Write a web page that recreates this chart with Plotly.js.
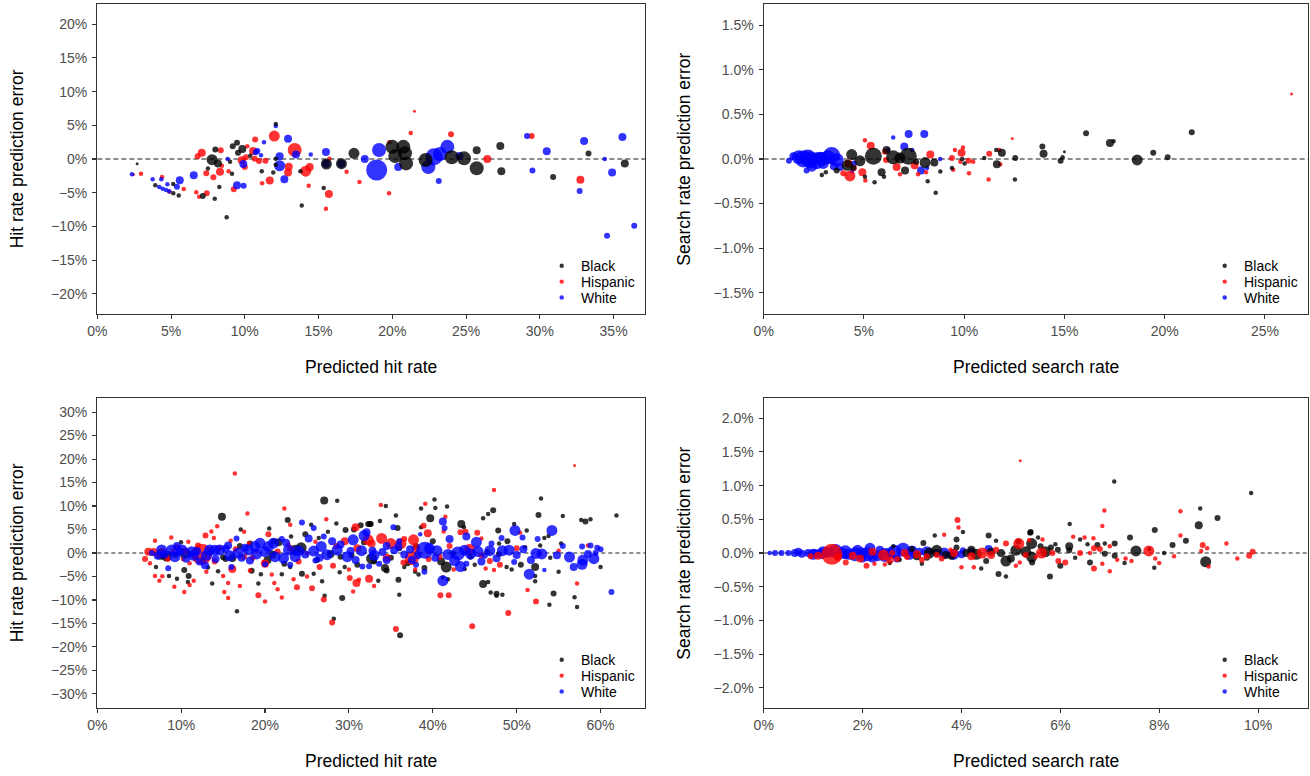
<!DOCTYPE html>
<html><head><meta charset="utf-8">
<script src="https://cdn.plot.ly/plotly-3.0.1.min.js"></script>
<style>html,body{margin:0;padding:0;background:#fff;} #chart{width:1310px;height:776px;}</style>
</head><body><div id="chart"></div>
<script>
// ---- DATA: each point = [predicted rate (%), prediction error (%), weight class] ----
// Panel 1: hit rate (top-left)
const hitTopBlack = [[2.7,-0.7,1],[3.93,-3.9,2],[5.15,-3.7,2],[5.15,-5.1,2],[5.52,-5.4,2],[7.15,-5.5,3],[7.5,-1.4,2],[7.78,-0.1,5],[8.0,1.4,3],[8.18,-0.65,4],[8.27,-4.15,2],[7.96,-5.9,2],[8.77,-8.65,2],[9.0,-0.4,2],[9.13,-2.2,2],[9.18,1.9,3],[9.47,2.4,3],[9.54,0.93,3],[9.83,1.5,4],[10.37,0.5,2],[11.15,-1.8,2],[11.93,-2.0,2],[12.1,5.2,2],[12.1,0.05,2],[12.1,-0.85,2],[13.77,-1.8,2],[13.86,-6.9,2],[15.35,-4.3,2],[15.53,-0.74,5],[16.55,-0.7,5],[17.4,0.85,5],[20.0,1.8,6],[20.2,0.45,6],[20.75,1.8,6],[20.86,0.85,6],[20.93,-0.65,6],[22.26,-0.15,6],[24.03,0.25,6],[24.86,0.1,6],[25.72,-1.38,6],[25.72,1.3,4],[27.32,1.93,4],[27.39,-1.8,4],[30.9,-2.67,3],[33.3,0.8,3],[35.76,-0.65,4]];
const hitTopHispanic = [[2.45,-2.3,1],[2.96,-2.2,2],[4.39,-2.67,2],[4.88,-4.85,2],[5.86,-4.45,2],[6.71,-4.95,2],[6.9,-5.6,2],[7.42,-5.1,3],[6.8,0.4,3],[7.08,0.93,4],[7.39,-2.1,3],[8.37,1.3,3],[8.45,-1.0,2],[8.32,-1.9,4],[7.87,-2.7,3],[8.9,-1.8,2],[9.79,-0.2,4],[10.0,-1.2,3],[9.25,-4.5,3],[10.08,0.25,3],[10.17,1.9,2],[10.56,1.2,4],[10.7,2.9,3],[10.67,0.05,3],[10.96,-0.3,3],[11.17,-3.6,2],[11.4,-0.25,3],[11.69,-3.2,4],[12.0,3.4,5],[12.98,-1.15,4],[12.93,-2.0,4],[13.38,1.35,6],[14.13,-1.8,5],[14.4,-1.2,4],[14.33,-3.96,2],[15.5,-7.4,2],[15.7,-5.2,4],[15.73,0.05,2],[16.9,-1.9,2],[17.77,-3.4,2],[19.78,-5.1,2],[19.8,2.5,2],[21.5,7.1,1],[21.25,3.85,2],[23.98,3.66,3],[26.44,0,4],[29.45,3.4,3],[32.75,-3.07,4]];
const hitTopWhite = [[2.35,-2.27,2],[3.75,-3.0,2],[4.34,-3.0,2],[4.2,-4.15,2],[4.43,-4.4,2],[4.66,-4.6,2],[4.88,-4.8,2],[4.75,-3.76,2],[5.4,-4.1,3],[5.59,-3.16,4],[6.54,-2.4,4],[8.84,0,2],[9.9,-0.74,4],[9.47,-3.9,4],[9.92,-3.96,3],[10.74,1.0,3],[10.85,1.2,3],[11.1,0.55,2],[11.3,2.5,2],[12.1,4.9,2],[12.36,0.4,4],[12.36,-1.0,5],[12.68,-3.0,4],[12.93,3.0,4],[13.47,0.65,4],[14.47,0.65,2],[15.5,1.04,4],[15.5,-0.7,4],[16.55,-0.7,4],[18.13,0,4],[18.94,-1.63,8],[19.1,1.34,6],[20.4,-1.2,4],[22.44,-1.2,6],[22.83,0.35,7],[23.23,0.74,6],[23.73,1.8,6],[24.55,0.45,4],[23.15,-3.26,3],[29.13,3.4,3],[29.5,-1.7,3],[30.47,1.14,4],[32.7,-4.75,3],[33.0,2.67,4],[34.4,0,2],[34.9,-2.0,4],[35.6,3.26,4],[34.56,-11.4,3],[36.4,-9.9,3]];

// Panel 2: search rate (top-right)
const searchTopBlack = [[2.9,-0.18,2],[3.1,-0.15,2],[3.64,-0.13,3],[4.17,-0.07,5],[4.39,0.05,5],[4.47,-0.1,3],[4.8,-0.02,5],[5.05,-0.2,2],[5.47,0.03,7],[5.53,-0.26,2],[5.88,-0.15,4],[6.0,-0.2,2],[6.13,0.1,4],[6.46,0.02,6],[6.8,0.01,5],[7.21,0.03,7],[7.05,-0.13,4],[7.6,-0.03,3],[8.05,-0.04,5],[8.51,-0.04,4],[8.18,-0.25,2],[8.58,-0.38,2],[8.81,-0.14,2],[9.39,-0.1,2],[9.9,0.0,2],[10.02,-0.05,2],[11.0,0.01,2],[11.63,-0.06,4],[11.88,0.07,4],[11.6,0.1,2],[12.55,0.01,3],[12.53,-0.23,2],[13.9,0.14,3],[13.96,0.06,4],[14.81,-0.02,3],[14.91,0.02,2],[15.0,0.08,1],[16.08,0.29,3],[17.27,0.18,4],[17.45,0.2,2],[18.63,-0.01,5],[19.43,0.07,3],[20.15,0.02,3],[21.35,0.3,3]];
const searchTopHispanic = [[3.97,-0.16,3],[4.3,-0.19,5],[4.22,-0.05,4],[4.5,-0.1,3],[4.92,-0.15,4],[5.07,-0.24,2],[5.05,0.21,2],[5.34,0.15,4],[6.05,0.08,3],[6.1,-0.01,3],[6.63,-0.09,4],[6.8,-0.17,2],[7.53,-0.07,4],[7.7,-0.17,2],[8.31,0.05,4],[8.1,-0.15,2],[9.39,0.01,3],[9.45,-0.12,2],[9.54,0.1,2],[9.87,0.07,4],[9.94,0.13,2],[9.81,-0.03,2],[10.22,-0.02,3],[10.24,-0.16,2],[10.45,-0.03,2],[11.25,0.06,3],[11.22,-0.23,2],[11.75,0.1,2],[11.8,-0.06,2],[12.4,0.23,1],[26.33,0.73,1]];
const searchTopWhite = [[1.26,-0.02,3],[1.48,0.03,4],[1.75,0.02,6],[1.98,0.0,7],[2.2,0.01,7],[2.31,-0.01,7],[2.64,-0.02,7],[2.14,-0.13,3],[2.4,-0.08,5],[2.9,0.0,6],[2.97,-0.05,5],[3.2,0.02,6],[3.39,0.04,7],[3.64,-0.01,6],[3.8,-0.09,4],[3.5,-0.08,4],[2.8,0.02,5],[4.4,-0.14,2],[4.5,-0.05,3],[6.46,0.24,2],[6.2,0.1,2],[7.01,0.14,4],[7.23,0.28,4],[7.4,0.1,2],[8.01,0.28,4],[7.85,-0.13,4],[8.15,-0.1,2],[8.8,0.0,2]];

// Panel 3: hit rate (bottom-left)
const hitBottomBlack = [[7.59,-0.28,5],[8.27,-0.64,5],[8.55,-4.9,2],[9.98,2.3,2],[10.45,-0.07,5],[10.37,-3.6,3],[10.8,-6.2,2],[10.89,-4.9,3],[11.5,-0.5,3],[14.86,7.73,4],[15.0,-0.9,3],[14.4,-3.9,2],[13.7,-6.5,2],[16.1,-1.06,4],[17.1,5.0,2],[16.65,-12.4,2],[18.2,2.0,3],[18.4,-3.8,3],[19.2,-6.5,2],[20.3,-1.5,4],[21.0,2.5,3],[21.6,2.3,4],[22.3,-2.3,3],[22.7,7.0,3],[23.1,3.5,2],[23.6,0.6,5],[24.3,1.1,5],[24.4,-4.4,3],[24.8,4.0,3],[26.4,3.2,2],[27.05,11.2,4],[28.6,11.1,2],[27.1,-9.1,2],[28.2,-14.0,2],[29.2,-9.6,3],[25.8,-4.4,2],[28.9,-4.1,2],[29.6,4.9,3],[30.6,5.0,3],[31.4,5.9,3],[32.3,6.2,3],[32.6,6.2,3],[32.7,-1.2,5],[31.8,2.3,3],[30.3,-0.5,3],[29.0,-0.8,3],[26.2,-1.5,3],[27.8,-0.2,4],[20.9,-0.3,4],[15.3,-1.3,3],[12.6,-1.5,3],[13.2,-3.1,2],[9.3,-0.4,3],[11.8,0.2,3],
 [34.4,10.0,2],[40.2,11.4,2],[38.6,9.5,2],[40.3,9.6,2],[41.7,9.9,2],[35.6,8.0,2],[39.7,7.4,4],[46.0,7.4,2],[46.6,8.3,2],[47.2,9.1,3],[52.6,8.1,3],[52.9,11.6,2],[55.5,7.9,2],[57.7,7.0,2],[58.2,6.7,3],[58.8,7.2,2],[61.9,8.0,2],[32.5,6.2,3],[33.7,6.8,2],[35.8,5.3,3],[38.6,5.5,2],[43.4,6.2,4],[43.7,5.5,2],[47.8,4.8,3],[49.7,6.2,2],[51.2,4.8,2],[53.3,3.2,2],[53.8,3.6,2],[52.8,1.6,2],[55.3,2.0,2],[48.9,2.5,3],[47.9,2.0,2],[46.5,0.2,3],[47.9,-0.2,3],[42.4,-0.1,3],[34.3,-3.2,4],[34.5,-3.7,3],[33.5,-5.9,2],[35.9,-5.7,3],[36.6,-3.0,2],[37.9,-4.0,2],[38.3,-4.6,2],[39.0,-3.2,3],[41.2,-5.2,2],[41.8,-5.6,2],[41.6,-3.0,5],[43.8,-3.4,2],[46.0,-6.6,4],[46.6,-6.2,2],[46.9,-8.4,2],[47.6,-8.7,3],[47.6,-9.1,2],[48.3,-8.9,2],[36.0,-8.9,2],[36.1,-17.5,3],[52.2,-3.0,4],[52.2,-4.9,2],[52.2,-6.0,2],[54.4,-8.6,3],[53.9,-11.0,2],[56.9,-9.4,2],[57.2,-11.5,2],[49.4,-3.5,2],[48.8,-3.0,2],
 [20.5,5.2,2],[22.0,-4.5,2],[25.5,6.0,2],[26.8,-6.0,2],[27.5,4.5,2],[28.5,6.3,2],[29.5,-3.0,2],[31.0,-2.5,3],[33.0,-1.8,3],[35.0,-1.0,3],[36.0,1.0,3],[37.0,-2.2,3],[38.0,1.5,3],[40.0,2.5,3],[41.0,-1.8,4],[44.5,-0.8,3],[45.0,-2.5,2],[50.5,-2.5,3],[51.0,1.2,2],[54.0,-1.0,2],[55.0,-4.0,2],[60.0,-3.0,2],[17.0,1.5,3],[19.5,-4.5,2],[13.5,0.2,3],[23.0,-3.0,2],[9.5,-5.5,2],[7.0,-3.0,2]];
const hitBottomHispanic = [[5.69,-1.28,3],[6.08,0.28,4],[6.28,-2.2,2],[6.88,2.6,2],[6.88,-4.9,2],[7.4,-5.9,2],[7.2,-0.3,3],[7.75,-4.96,2],[8.82,3.3,2],[9.18,-7.2,2],[9.46,1.2,3],[10.37,-8.3,2],[10.85,2.4,2],[11.0,-2.2,2],[11.5,-5.9,2],[12.44,-0.28,8],[12.9,3.7,3],[13.6,4.6,2],[13.9,3.2,2],[14.3,5.7,2],[15.0,-4.9,2],[15.14,-8.3,2],[15.6,-9.6,2],[15.6,-6.4,2],[16.4,16.9,2],[16.1,-3.4,4],[15.9,2.6,2],[17.5,4.5,2],[17.9,8.4,2],[18.1,2.1,2],[18.2,-3.7,2],[19.9,-2.0,3],[20.4,4.0,3],[19.2,-9.0,3],[20.0,-10.3,2],[20.0,-2.3,4],[21.1,-6.4,2],[21.5,-7.7,2],[22.3,9.5,2],[23.8,-7.3,3],[23.4,-5.6,2],[25.6,-7.5,3],[27.3,7.2,2],[27.0,-9.9,3],[28.0,-14.8,3],[28.1,-2.7,3],[30.1,-5.3,3],[30.9,-6.4,4],[31.2,-5.7,2],[30.5,-8.2,2],[30.8,5.5,4],[32.4,-5.5,4],[32.3,2.8,5],[25.0,-0.1,2],[26.0,2.4,2],[22.8,1.8,2],[19.0,0.5,2],[17.5,-0.8,3],[14.5,1.0,3],[8.4,-1.2,3],[9.0,0.4,2],[10.2,-1.3,2],[11.7,-0.9,3],[13.2,0.6,3],
 [56.9,18.65,1],[47.3,13.4,2],[33.8,10.2,2],[39.1,10.5,2],[41.5,7.7,2],[38.9,5.8,3],[39.4,4.2,4],[41.3,4.6,2],[33.0,-7.0,2],[37.9,-3.5,2],[37.7,2.8,5],[37.5,-1.1,6],[33.9,3.1,5],[32.7,2.0,4],[35.0,2.0,5],[36.2,2.0,5],[36.6,3.0,3],[40.8,-0.8,3],[44.4,0.8,5],[43.3,4.4,3],[43.9,4.5,3],[45.3,4.3,3],[45.8,3.1,2],[46.8,-1.7,3],[46.3,-3.3,2],[47.3,-3.6,2],[40.9,-9.0,3],[41.9,-9.0,3],[44.7,-15.6,3],[35.6,-16.2,3],[49.0,-12.8,3],[51.3,-7.9,2],[52.3,-10.3,3],[52.8,-0.1,2],[50.4,4.3,2],[57.2,-6.5,2],[58.5,1.6,2],[39.5,-1.3,3],
 [6.7,0.2,4],[7.8,0.5,3],[10.5,0.5,3],[12.0,1.6,3],[14.0,-1.8,3],[16.5,0.8,3],[18.5,-1.0,3],[21.5,0.3,3],[23.0,1.0,3],[24.0,-1.8,3],[26.5,-3.0,3],[28.5,1.5,3],[29.5,2.5,4],[31.0,1.0,4],[34.5,-1.0,4],[36.5,-2.0,3],[38.0,1.0,4],[42.0,1.5,3],[45.8,-0.5,3],[48.0,-2.5,3],[50.0,1.0,3],[55.0,0.5,2],[42.5,-3.5,2],[30.0,-3.5,2],[20.8,-4.6,2],[13.0,-4.0,2],[11.0,-6.8,2],[17.0,-7.0,2],[25.0,-5.0,2],[22.0,-9.5,2],[23.0,6.0,2]];
const hitBottomWhite = [[6.5,0.0,3],[7.67,0.64,5],[7.2,-0.6,4],[8.0,-0.3,4],[8.46,-3.26,3],[8.86,0.64,5],[9.26,-0.78,5],[9.8,0.3,4],[10.1,0.64,5],[10.6,-1.2,4],[11.25,0.28,5],[11.9,0.4,4],[12.84,-2.6,4],[12.2,-1.8,4],[13.4,0.64,5],[14.0,0.6,5],[14.6,0.64,5],[14.1,-1.3,4],[15.3,0.9,4],[16.6,3.1,3],[15.6,1.6,4],[16.8,0.0,5],[17.6,1.1,4],[18.0,0.64,5],[18.8,1.4,5],[18.2,-1.6,4],[19.4,2.1,5],[20.4,1.4,5],[21.0,2.1,5],[21.2,-0.78,5],[22.2,-1.1,5],[22.8,0.64,5],[23.6,-0.78,5],[24.4,6.5,3],[25.8,5.3,3],[25.2,3.1,4],[24.8,-0.3,4],[26.7,1.4,5],[27.4,-0.36,5],[28.6,0.64,5],[29.8,-0.78,5],[30.5,2.8,5],[31.8,3.7,5],[31.6,-2.9,3],[30.2,0.4,4],[32.8,0.5,4],[26.0,-1.6,3],[22.0,3.0,3],[20.0,-2.4,3],
 [32.1,4.4,4],[32.4,-2.8,3],[33.6,-2.3,3],[35.3,5.5,3],[35.9,1.4,4],[35.4,0.6,4],[38.5,4.0,2],[39.05,0.6,7],[39.6,1.0,5],[38.2,-0.5,4],[38.0,-2.5,3],[40.3,-1.0,4],[41.2,6.7,4],[41.4,5.3,3],[42.0,3.0,4],[43.0,-0.1,6],[43.8,0.6,5],[42.6,-1.6,5],[43.3,-2.9,5],[44.0,-2.3,3],[41.2,-5.9,5],[45.2,2.3,5],[45.4,0.3,5],[46.2,-0.6,3],[46.8,0.5,5],[47.6,-1.1,4],[48.2,3.2,3],[48.3,0.5,5],[49.1,0.6,5],[49.7,-1.9,3],[49.8,4.8,5],[50.7,3.3,3],[50.0,-0.4,4],[51.5,-4.5,5],[52.5,3.0,3],[52.3,-0.1,5],[53.0,-0.2,5],[53.3,-3.6,2],[54.2,4.8,5],[56.3,-0.85,5],[56.8,-3.0,4],[57.8,-2.4,5],[57.9,-1.5,5],[57.8,1.4,3],[58.8,1.6,3],[59.6,1.1,3],[59.2,-1.2,5],[59.4,0.0,3],[61.3,-8.3,3],[34.5,-1.5,4],[34.0,0.2,4],[36.6,-0.3,4],[37.3,0.8,4],
 [9.5,1.5,4],[11.5,-0.5,5],[13.0,-0.5,5],[15.8,-0.6,5],[17.2,-1.0,4],[19.0,-0.2,5],[20.0,0.3,5],[22.5,2.2,4],[24.0,0.5,5],[25.8,0.4,5],[26.5,-1.0,4],[28.0,2.5,4],[29.0,1.8,4],[30.8,-1.5,4],[31.5,0.5,5],[33.0,-0.5,5],[34.5,1.5,4],[36.0,2.5,3],[37.5,-1.5,4],[40.5,0.5,5],[41.8,-0.3,5],[44.5,-0.2,5],[45.8,-1.8,4],[47.0,2.0,3],[50.8,0.8,4],[51.7,-1.5,4],[54.8,-0.5,4],[55.5,1.5,3],[58.5,-0.2,4],[60.0,0.8,3],[16.0,-3.0,3],[23.0,-2.5,3],[27.0,3.5,3],[39.0,-4.0,3],[44.0,3.5,4]];

// Panel 4: search rate (bottom-right)
const searchBottomBlack = [[2.62,0.1,2],[2.75,-0.1,2],[2.55,-0.15,2],[3.0,0.06,3],[3.23,0.15,3],[3.2,-0.16,2],[3.35,0.0,5],[3.46,0.26,2],[3.5,0.04,5],[3.68,-0.03,4],[3.3,-0.07,3],[3.9,0.2,3],[4.03,0.31,2],[4.1,0.0,4],[4.3,-0.02,5],[4.4,-0.23,2],[4.55,0.26,3],[4.5,-0.12,3],[4.7,0.18,2],[4.75,-0.31,3],[4.9,-0.12,5],[4.9,-0.35,2],[5.1,0.04,5],[5.15,0.17,3],[5.3,0.02,5],[5.4,0.31,3],[5.42,0.14,5],[5.42,-0.06,5],[5.43,-0.14,3],[5.39,0.3,3],[5.55,0.23,2],[5.7,0.02,5],[5.79,-0.35,3],[5.81,0.08,3],[5.9,0.13,2],[6.0,-0.19,3],[6.19,0.43,2],[6.18,0.1,4],[6.18,0.04,3],[6.3,-0.07,2],[6.6,-0.14,3],[6.55,0.13,2],[6.75,0.12,3],[6.9,-0.01,3],[7.09,1.06,2],[7.1,0.14,3],[7.1,-0.04,3],[7.41,0.23,3],[7.53,0.03,5],[7.9,-0.22,2],[7.91,0.34,3],[8.27,0.12,3],[8.54,0.18,3],[8.8,0.41,4],[8.83,0.66,2],[9.18,0.52,3],[8.94,-0.13,5],[9.86,0.89,2],
 [3.1,-0.05,4],[3.8,-0.04,4],[3.9,0.08,3],[4.2,0.05,4],[4.6,0.02,4],[4.8,0.0,4],[5.0,-0.08,4],[5.6,0.1,3],[5.95,0.05,3],[6.4,0.2,2],[6.9,0.14,2],[7.8,0.06,2],[8.1,0.0,2],[7.3,-0.15,2]];
const searchBottomHispanic = [[1.38,-0.02,8],[1.1,-0.04,4],[0.95,-0.05,3],[1.66,-0.14,3],[1.8,-0.04,4],[2.08,-0.19,3],[2.24,-0.16,2],[2.45,-0.17,2],[2.42,-0.03,5],[2.7,-0.09,3],[2.6,0.0,3],[2.9,-0.06,3],[3.1,-0.02,4],[3.3,-0.05,3],[3.5,-0.03,3],[3.65,0.27,2],[3.92,0.49,3],[3.94,0.38,2],[3.78,0.05,2],[4.0,-0.21,2],[4.25,-0.21,2],[4.42,0.0,5],[4.9,0.14,3],[5.16,0.14,5],[5.1,-0.19,2],[5.18,-0.14,2],[5.19,1.37,1],[5.37,0.19,2],[5.5,-0.06,2],[5.64,0.2,2],[5.62,0.0,5],[5.84,0.0,3],[5.96,-0.12,3],[6.1,-0.14,3],[6.26,0.24,2],[6.49,0.23,2],[6.67,0.22,2],[6.68,0.07,3],[6.6,0.0,2],[6.8,0.06,3],[6.68,-0.23,3],[6.85,-0.16,2],[6.89,0.63,2],[6.85,0.4,2],[7.0,-0.27,2],[7.15,-0.1,2],[7.32,-0.08,2],[7.44,-0.12,2],[7.79,0.03,5],[7.92,-0.08,2],[8.0,-0.15,2],[8.43,0.62,2],[8.43,0.26,2],[8.88,0.12,3],[8.97,0.07,2],[8.85,0.03,2],[9.36,0.14,2],[9.58,-0.08,2],[9.82,-0.04,3],[9.89,0.02,3],
 [1.5,-0.06,4],[1.95,-0.08,4],[2.2,0.02,4],[2.55,-0.1,4],[2.85,0.0,4],[3.2,-0.1,3],[3.6,-0.08,3],[3.85,0.0,4],[4.2,-0.05,4],[4.6,-0.03,4],[4.7,0.05,3],[5.3,-0.03,3],[6.4,0.0,3],[7.0,0.1,2],[8.3,-0.05,2],[9.0,-0.2,2]];
const searchBottomWhite = [[0.12,0.0,2],[0.23,0.0,3],[0.36,0.0,3],[0.5,0.0,3],[0.63,0.0,4],[0.7,0.02,4],[0.77,-0.01,4],[0.9,0.0,4],[1.0,-0.02,5],[1.04,0.0,4],[1.17,-0.01,5],[1.2,0.02,5],[1.3,0.01,5],[1.45,0.03,6],[1.58,0.0,5],[1.65,0.01,6],[1.72,-0.02,5],[1.85,-0.02,6],[1.9,0.04,5],[2.0,0.0,5],[2.1,-0.02,6],[2.15,0.07,5],[2.2,-0.06,5],[2.3,-0.04,5],[2.35,0.05,4],[2.45,-0.03,6],[2.55,0.0,5],[2.65,0.02,6],[2.82,0.05,6],[2.95,-0.02,5],[3.0,0.03,5],[2.7,-0.08,4],[3.15,0.02,4],[3.3,0.02,5],[3.5,0.0,4],[3.65,0.0,5],[3.84,-0.02,5],[4.0,-0.02,4],[4.03,0.04,3],[4.2,0.02,4],[4.55,0.06,4],[2.0,-0.08,4],[1.5,-0.05,4]];

const groups = ['Black', 'Hispanic', 'White'];
const xTitles = ['Predicted hit rate', 'Predicted search rate', 'Predicted hit rate', 'Predicted search rate'];
const yTitles = ['Hit rate prediction error', 'Search rate prediction error', 'Hit rate prediction error', 'Search rate prediction error'];

// ---- STYLE / LAYOUT ----
const W = 1310, H = 776;
const FONT = 'Liberation Sans, Arial, Helvetica, sans-serif';
const COLORS = {Black: '#000000', Hispanic: '#FF0000', White: '#0000FF'};
const SIZE = [0, 3, 4.5, 6, 8, 11, 14, 17, 21];
const px = v => v / W, py = v => 1 - v / H;

const panels = [
  {data: {Black: hitTopBlack, Hispanic: hitTopHispanic, White: hitTopWhite}, order: ['Hispanic','White','Black'],
   xd: [97.3, 645], yd: [4, 314], xr: [0, 37.13], yr: [-23, 23], xdt: 5, ydt: 5, yfmt: 'd', zl: {color:'#666', dash:'5px,3px', width:1.3}},
  {data: {Black: searchTopBlack, Hispanic: searchTopHispanic, White: searchTopWhite}, order: ['White','Hispanic','Black'],
   xd: [763.7, 1308], yd: [4, 314], xr: [0, 27.15], yr: [-1.74, 1.74], xdt: 5, ydt: 0.5, yfmt: '.1f', zl: {color:'#666', dash:'5px,3px', width:1.3}},
  {data: {Black: hitBottomBlack, Hispanic: hitBottomHispanic, White: hitBottomWhite}, order: ['Black','Hispanic','White'],
   xd: [97.3, 645], yd: [398, 708], xr: [0, 65.3], yr: [-33, 33], xdt: 10, ydt: 5, yfmt: 'd', zl: {color:'#222', dash:'4px,3px', width:1.1}},
  {data: {Black: searchBottomBlack, Hispanic: searchBottomHispanic, White: searchBottomWhite}, order: ['White','Black','Hispanic'],
   xd: [763.7, 1308], yd: [398, 708], xr: [0, 11.01], yr: [-2.3, 2.3], xdt: 2, ydt: 0.5, yfmt: '.1f', zl: {color:'#222', dash:'4px,3px', width:1.1}}
];

const traces = [];
const layout = {
  width: W, height: H, margin: {l: 0, r: 0, t: 0, b: 0},
  paper_bgcolor: '#fff', plot_bgcolor: '#fff', showlegend: false,
  font: {family: FONT, size: 14, color: '#000'},
  shapes: [], annotations: []
};

panels.forEach((p, i) => {
  const n = i === 0 ? '' : String(i + 1);
  const xa = 'x' + n, ya = 'y' + n;
  p.order.forEach(g => {
    const pts = p.data[g];
    traces.push({
      type: 'scatter', mode: 'markers', name: g, xaxis: xa, yaxis: ya,
      x: pts.map(d => d[0]), y: pts.map(d => d[1]),
      marker: {color: COLORS[g], opacity: 0.8, size: pts.map(d => SIZE[d[2]]), line: {width: 0}},
      hoverinfo: 'x+y+name'
    });
  });
  const axCommon = {
    showgrid: false, zeroline: false, showline: true, mirror: true,
    linecolor: '#333333', linewidth: 1.2, ticks: 'outside', ticklen: 4, tickwidth: 1.1, tickcolor: '#333333',
    tickfont: {family: FONT, size: 14, color: '#4D4D4D'}, ticksuffix: '%', fixedrange: true
  };
  layout['xaxis' + n] = Object.assign({}, axCommon, {
    domain: [px(p.xd[0]), px(p.xd[1])], range: p.xr, anchor: ya, tick0: 0, dtick: p.xdt, tickformat: 'd'
  });
  layout['yaxis' + n] = Object.assign({}, axCommon, {
    domain: [py(p.yd[1]), py(p.yd[0])], range: p.yr, anchor: xa, tick0: 0, dtick: p.ydt, tickformat: p.yfmt,
    ticklabelstandoff: 2
  });
  // dashed reference line at zero error
  layout.shapes.push({type: 'line', xref: xa + ' domain', yref: ya, x0: 0, x1: 1, y0: 0, y1: 0,
    line: {color: p.zl.color, width: p.zl.width, dash: p.zl.dash}, layer: 'below'});
  // axis titles
  const cx = (p.xd[0] + p.xd[1]) / 2, cy = (p.yd[0] + p.yd[1]) / 2;
  layout.annotations.push({xref: 'paper', yref: 'paper', x: px(cx), y: py(p.yd[1] + 53), text: xTitles[i],
    showarrow: false, xanchor: 'center', yanchor: 'middle', font: {family: FONT, size: 17.5, color: '#000'}});
  layout.annotations.push({xref: 'paper', yref: 'paper', x: px(p.xd[0] - 80), y: py(cy), text: yTitles[i], textangle: -90,
    showarrow: false, xanchor: 'center', yanchor: 'middle', font: {family: FONT, size: 17.5, color: '#000'}});
  // legend keys
  groups.forEach((g, k) => {
    const ky = p.yd[1] - 48.3 + k * 15.9;
    const kx = p.xd[1] - 83.3;
    layout.shapes.push({type: 'circle', xref: 'paper', yref: 'paper', xsizemode: 'pixel', ysizemode: 'pixel',
      xanchor: px(kx), yanchor: py(ky), x0: -2.2, x1: 2.2, y0: -2.2, y1: 2.2,
      fillcolor: COLORS[g], opacity: 0.8, line: {width: 0}});
    layout.annotations.push({xref: 'paper', yref: 'paper', x: px(kx + 17), y: py(ky), text: g, showarrow: false,
      xanchor: 'left', yanchor: 'middle', font: {family: FONT, size: 14, color: '#000'}});
  });
});

Plotly.newPlot('chart', traces, layout, {displayModeBar: false, staticPlot: true});
</script></body></html>
